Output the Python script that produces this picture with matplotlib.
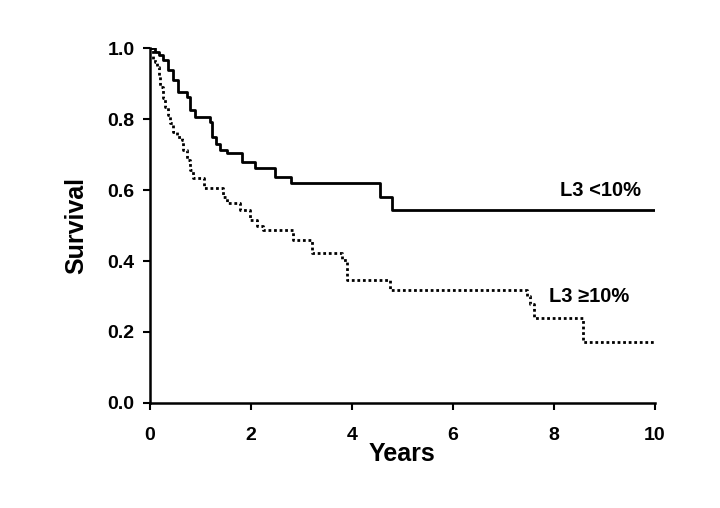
import matplotlib
matplotlib.use("Agg")
from matplotlib import pyplot as plt

# Kaplan-Meier steps (years, survival after the step)
low_years = [0, 0.1, 0.18, 0.26, 0.36, 0.46, 0.56, 0.73, 0.79, 0.89, 1.19, 1.22,
             1.3, 1.39, 1.52, 1.82, 2.08, 2.48, 2.8, 4.55, 4.79, 10]
low_surv = [1.0, 0.99, 0.98, 0.966, 0.938, 0.91, 0.877, 0.863, 0.825, 0.806, 0.792, 0.75,
            0.73, 0.713, 0.704, 0.68, 0.661, 0.637, 0.619, 0.581, 0.544, 0.544]

high_years = [0, 0.05, 0.1, 0.13, 0.17, 0.2, 0.25, 0.3, 0.35, 0.4, 0.46, 0.53, 0.63, 0.66,
              0.73, 0.79, 0.86, 1.06, 1.45, 1.52, 1.78, 1.98, 2.11, 2.24, 2.84, 3.2,
              3.8, 3.9, 4.75, 7.46, 7.52, 7.6, 8.58, 10]
high_surv = [1.0, 0.97, 0.96, 0.947, 0.92, 0.89, 0.86, 0.835, 0.81, 0.79, 0.764, 0.75, 0.74, 0.713,
             0.684, 0.656, 0.633, 0.605, 0.58, 0.563, 0.544, 0.515, 0.5, 0.487, 0.459, 0.422,
             0.403, 0.346, 0.318, 0.30, 0.28, 0.239, 0.173, 0.173]

x_ticks = [0, 2, 4, 6, 8, 10]
y_ticks = [0.0, 0.2, 0.4, 0.6, 0.8, 1.0]

plt.rcParams['font.family'] = ['Liberation Sans', 'DejaVu Sans']
plt.rcParams['font.weight'] = 'bold'

fig = plt.figure(figsize=(7.2, 5.08), dpi=100)
ax = fig.add_axes([0.2083, 0.2067, 0.7014, 0.6988])

ax.step(low_years, low_surv, where='post', color='black', lw=2.0)
ax.step(high_years, high_surv, where='post', color='black', lw=2.0, linestyle=(0, (1, 1)))

ax.text(8.93, 0.60, "L3 <10%", fontsize=14.5, fontweight='bold', ha='center', va='center')
ax.text(8.69, 0.30, "L3 \u226510%", fontsize=14.5, fontweight='bold', ha='center', va='center')

ax.set_xlim(0, 10)
ax.set_ylim(0, 1.0)
ax.set_xticks(x_ticks)
ax.set_xticklabels([str(t) for t in x_ticks])
ax.set_yticks(y_ticks)
ax.set_yticklabels(["%.1f" % t for t in y_ticks])
ax.tick_params(direction='out', length=5, width=1.5, labelsize=14)
ax.tick_params(axis='x', pad=12)
ax.tick_params(axis='y', pad=6)
for lab in ax.get_xticklabels() + ax.get_yticklabels():
    lab.set_fontweight('bold')

ax.spines['top'].set_visible(False)
ax.spines['right'].set_visible(False)
ax.spines['left'].set_linewidth(1.8)
ax.spines['bottom'].set_linewidth(1.8)

ax.set_xlabel("Years", fontsize=18, fontweight='bold', labelpad=-1)
ax.set_ylabel("Survival", fontsize=18, fontweight='bold', labelpad=14)

fig.savefig("out.png", dpi=100)
